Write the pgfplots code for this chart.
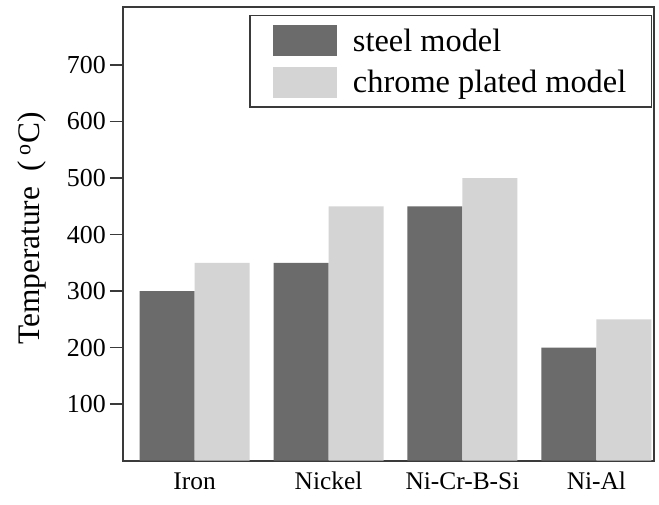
\documentclass[border=0pt]{standalone}
\usepackage{pgfplots}
\pgfplotsset{compat=1.18}
\usepackage{fontspec}
\setmainfont{Liberation Serif}
\definecolor{darkbar}{HTML}{6B6B6B}
\definecolor{lightbar}{HTML}{D4D4D4}
\definecolor{axcol}{HTML}{3A3A3A}
\begin{document}
\begin{tikzpicture}
\useasboundingbox[fill=white] (0,0) rectangle (659bp,505bp);
\begin{axis}[
  at={(122.7bp,44.3bp)}, anchor=south west,
  scale only axis, width=531.3bp, height=454bp,
  xmin=-0.537, xmax=3.43, ymin=0, ymax=803,
  ybar=0pt, bar width=55bp,
  xtick={0,1,2,3},
  xticklabels={Iron,Nickel,Ni-Cr-B-Si,Ni-Al},
  ytick={100,200,300,400,500,600,700},
  tick align=outside, ytick pos=left,
  major tick length=12.7bp,
  xtick style={draw=none},
  ytick style={line width=1.6bp, axcol},
  axis line style={line width=1.8bp, axcol},
  /pgf/number format/assume math mode=true,
  yticklabel style={font=\fontsize{26}{28}\selectfont, inner sep=2bp, xshift=-2bp},
  xticklabel style={font=\fontsize{25.5}{27}\selectfont, text height=0.7em, text depth=0.25em, inner sep=3bp, yshift=-6bp},
  ylabel={Temperature\ \ (\,\textsuperscript{o}C)},
  ylabel style={font=\fontsize{31.5}{33}\selectfont, at={(axis description cs:-0.171,0.511)}, anchor=center},
  legend style={at={(axis description cs:0.9962,0.9817)}, anchor=north east,
    draw=axcol, line width=1.4bp, fill=white,
    font=\fontsize{32.5}{34}\selectfont,
    inner xsep=23bp, inner ysep=9.5bp, row sep=10.5bp},
  legend cell align=left,
  legend image code/.code={\fill[#1,draw=none] (0bp,-15.5bp) rectangle (64bp,15.5bp); \path (78bp,0bp);},
]
\addplot[fill=darkbar, draw=none] coordinates {(0,300) (1,350) (2,450) (3,200)};
\addplot[fill=lightbar, draw=none] coordinates {(0,350) (1,450) (2,500) (3,250)};
\legend{steel model, chrome plated model}
\end{axis}
\end{tikzpicture}
\end{document}
